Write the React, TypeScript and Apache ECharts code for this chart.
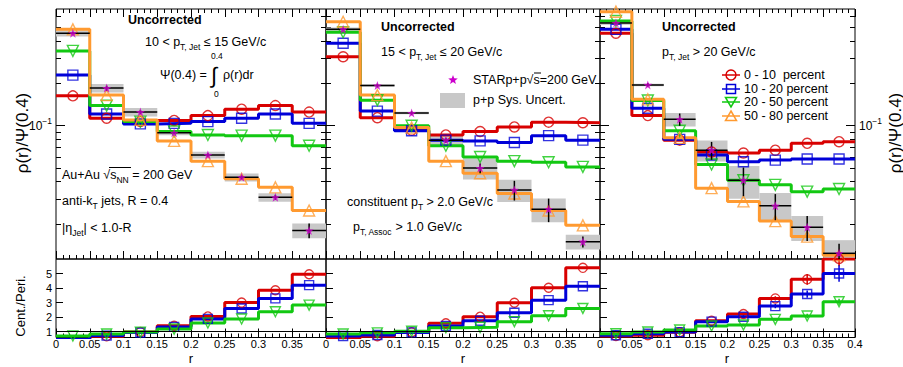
import React, { useEffect, useRef } from 'react';
import * as echarts from 'echarts';

// ---------------- data ----------------
const binEdges = [0, 0.05, 0.1, 0.15, 0.2, 0.25, 0.3, 0.35, 0.4];
const binCenters = [0.025, 0.075, 0.125, 0.175, 0.225, 0.275, 0.325, 0.375];

const centralityLabels = ['0 - 10  percent', '10 - 20 percent', '20 - 50 percent', '50 - 80 percent'];
const logMajorTicks = [0.1];
const logMinorTicks = [0.02, 0.03, 0.04, 0.05, 0.06, 0.07, 0.08, 0.09, 0.2, 0.3, 0.4, 0.5, 0.6];
const ratioTicks = [1, 2, 3, 4, 5];

// Panel 1: 10 < pT,Jet <= 15 GeV/c
const p1Cent0010 = [0.163, 0.113, 0.107, 0.109, 0.118, 0.131, 0.139, 0.125];
const p1Cent1020 = [0.229, 0.121, 0.103, 0.104, 0.107, 0.113, 0.121, 0.104];
const p1Cent2050 = [0.34, 0.139, 0.107, 0.091, 0.086, 0.085, 0.085, 0.072];
const p1Cent5080 = [0.484, 0.165, 0.11, 0.078, 0.056, 0.042, 0.0365, 0.025];
const p1PP = [0.454, 0.185, 0.125, 0.089, 0.062, 0.043, 0.031, 0.018];
const p1PPStat = [0.02, 0.04, 0.03, 0.02, 0.03, 0.03, 0.04, 0.12];
const p1PPSys = [0.05, 0.07, 0.07, 0.04, 0.055, 0.065, 0.07, 0.12];
const p1Ratio0010 = [0.34, 0.68, 0.97, 1.4, 2.05, 3.0, 3.85, 4.95];
const p1Ratio1020 = [0.47, 0.73, 0.94, 1.33, 1.88, 2.6, 3.29, 4.2];
const p1Ratio2050 = [0.7, 0.84, 0.97, 1.18, 1.6, 1.87, 2.37, 2.83];

// Panel 2: 15 < pT,Jet <= 20 GeV/c
const p2Cent0010 = [0.309, 0.114, 0.093, 0.086, 0.091, 0.098, 0.106, 0.105];
const p2Cent1020 = [0.385, 0.127, 0.092, 0.079, 0.078, 0.076, 0.085, 0.079];
const p2Cent2050 = [0.461, 0.152, 0.1, 0.072, 0.06, 0.056, 0.055, 0.051];
const p2Cent5080 = [0.548, 0.165, 0.097, 0.056, 0.046, 0.033, 0.025, 0.0196];
const p2PP = [0.484, 0.193, 0.123, 0.079, 0.05, 0.035, 0.0255, 0.015];
const p2PPStat = [0.02, 0.03, 0.03, 0.04, 0.08, 0.16, 0.19, 0.09];
const p2PPSys = [0.03, 0.02, 0.02, 0.08, 0.17, 0.18, 0.19, 0.12];
const p2Ratio0010 = [0.56, 0.69, 0.96, 1.58, 2.03, 2.99, 4.02, 5.39];
const p2Ratio1020 = [0.7, 0.77, 0.95, 1.39, 1.75, 2.3, 3.17, 4.13];
const p2Ratio2050 = [0.84, 0.92, 1.03, 1.27, 1.3, 1.69, 2.1, 2.6];

// Panel 3: pT,Jet > 20 GeV/c
const p3Cent0010 = [0.454, 0.118, 0.079, 0.065, 0.064, 0.067, 0.075, 0.077];
const p3Cent1020 = [0.484, 0.133, 0.08, 0.062, 0.0555, 0.057, 0.058, 0.058];
const p3Cent2050 = [0.555, 0.151, 0.092, 0.053, 0.041, 0.038, 0.034, 0.0355];
const p3Cent5080 = [0.646, 0.154, 0.082, 0.036, 0.029, 0.021, 0.0163, 0.012];
const p3PP = [0.537, 0.195, 0.111, 0.067, 0.041, 0.027, 0.019, 0.0124];
const p3PPStat = [0.02, 0.03, 0.1, 0.145, 0.23, 0.21, 0.2, 0.17];
const p3PPSys = [0.03, 0.02, 0.11, 0.17, 0.26, 0.23, 0.2, 0.24];
const p3Ratio0010 = [0.7, 0.76, 0.96, 1.75, 2.21, 3.29, 4.6, 6.0];
const p3Ratio1020 = [0.75, 0.86, 0.97, 1.69, 2.03, 2.76, 3.59, 5.0];
const p3Ratio2050 = [0.86, 0.98, 1.12, 1.39, 1.46, 1.85, 2.08, 3.06];
const p3RatioErr0010 = [0, 0, 0, 0.06, 0.1, 0.15, 0.37, 0.5];
const p3RatioErr1020 = [0, 0, 0, 0.06, 0.1, 0.15, 0.25, 0.57];
const p3RatioErr2050 = [0, 0, 0, 0.05, 0.08, 0.1, 0.15, 0.2];

const panels = [
  { cent: [p1Cent0010, p1Cent1020, p1Cent2050, p1Cent5080], pp: p1PP, ppStat: p1PPStat, ppSys: p1PPSys, ratio: [p1Ratio0010, p1Ratio1020, p1Ratio2050], ratioErr: null as null | number[][] },
  { cent: [p2Cent0010, p2Cent1020, p2Cent2050, p2Cent5080], pp: p2PP, ppStat: p2PPStat, ppSys: p2PPSys, ratio: [p2Ratio0010, p2Ratio1020, p2Ratio2050], ratioErr: null as null | number[][] },
  { cent: [p3Cent0010, p3Cent1020, p3Cent2050, p3Cent5080], pp: p3PP, ppStat: p3PPStat, ppSys: p3PPSys, ratio: [p3Ratio0010, p3Ratio1020, p3Ratio2050], ratioErr: [p3RatioErr0010, p3RatioErr1020, p3RatioErr2050] },
];

// ---------------- styles ----------------
const FONT = '"Liberation Sans", Arial, Helvetica, sans-serif';
const COLORS = ['#d80000', '#0000d8', '#12c812', '#ff9a30'];
const SYMBOLS = ['circle', 'rect', 'triangle', 'triangle'];
const ROTATES = [0, 0, 180, 0];
const MAGENTA = '#cc00cc';
const GRAY = '#c8c8c8';
const STAR = 'path://M0,-10 L2.35,-3.24 L9.51,-3.09 L3.8,1.24 L5.88,8.09 L0,4 L-5.88,8.09 L-3.8,1.24 L-9.51,-3.09 L-2.35,-3.24 Z';

const PANEL_X = [
  { left: 56, width: 270 },
  { left: 326, width: 274 },
  { left: 600, width: 255 },
];
const TOP_Y = { top: 9, height: 250 };
const RAT_Y = { top: 259, height: 78.5 };
const LOG_MIN = 0.0113;
const LOG_MAX = 0.675;

const RICH_G = {
  sub: { fontSize: 8.5, fontFamily: FONT, fill: '#000', padding: [10, 0, 0, 0] },
  sup: { fontSize: 8.5, fontFamily: FONT, fill: '#000', padding: [0, 0, 9, 0] },
};

function txt(x: number, y: number, text: string, o: any = {}) {
  return {
    type: 'text',
    x,
    y,
    rotation: o.rotation || 0,
    silent: true,
    z: 100,
    style: {
      text,
      fill: '#000',
      fontFamily: FONT,
      fontSize: o.fontSize || 12.5,
      fontWeight: o.bold ? 'bold' : 'normal',
      align: o.align || 'left',
      textAlign: o.align || 'left',
      verticalAlign: 'middle',
      textVerticalAlign: 'middle',
      rich: RICH_G,
    },
  };
}

function hline(x1: number, x2: number, y: number, color = '#000', w = 1) {
  return { type: 'line', silent: true, z: 100, shape: { x1, y1: y, x2, y2: y }, style: { stroke: color, lineWidth: w } };
}

function starPoints(cx: number, cy: number, r: number) {
  const pts: number[][] = [];
  for (let i = 0; i < 10; i++) {
    const rr = i % 2 === 0 ? r : r * 0.42;
    const a = -Math.PI / 2 + (i * Math.PI) / 5;
    pts.push([cx + rr * Math.cos(a), cy + rr * Math.sin(a)]);
  }
  return pts;
}

function legendMarker(ci: number, cx: number, cy: number) {
  const color = COLORS[ci];
  const st = { fill: 'none', stroke: color, lineWidth: 1.5 };
  const items: any[] = [hline(cx - 9, cx + 9, cy, color, 1.5)];
  if (ci === 0) items.push({ type: 'circle', silent: true, z: 101, shape: { cx, cy, r: 5 }, style: st });
  if (ci === 1) items.push({ type: 'rect', silent: true, z: 101, shape: { x: cx - 4.5, y: cy - 4.5, width: 9, height: 9 }, style: st });
  if (ci === 2) items.push({ type: 'polygon', silent: true, z: 101, shape: { points: [[cx - 5.5, cy - 4.5], [cx + 5.5, cy - 4.5], [cx, cy + 5]] }, style: st });
  if (ci === 3) items.push({ type: 'polygon', silent: true, z: 101, shape: { points: [[cx, cy - 5], [cx + 5.5, cy + 4.5], [cx - 5.5, cy + 4.5]] }, style: st });
  return items;
}

function buildOption() {
  const grid: any[] = [];
  PANEL_X.forEach((g) => grid.push({ ...g, ...TOP_Y, show: true, borderColor: '#000', borderWidth: 1, backgroundColor: 'transparent' }));
  PANEL_X.forEach((g) => grid.push({ ...g, ...RAT_Y, show: true, borderColor: '#000', borderWidth: 1, backgroundColor: 'transparent' }));

  const tickLine = { color: '#000', width: 1 };
  const xAxis: any[] = [];
  const xBase = (gridIndex: number, position: string, showLabel: boolean, hideMax: boolean, major: number, minor: number) => ({
    type: 'value',
    gridIndex,
    position,
    min: 0,
    max: 0.4,
    interval: 0.05,
    axisLine: { show: false },
    splitLine: { show: false },
    axisTick: { show: true, inside: true, length: major, lineStyle: tickLine },
    minorTick: { show: true, splitNumber: 5, length: minor, lineStyle: tickLine },
    axisLabel: {
      show: showLabel,
      margin: 1,
      fontSize: 11,
      fontFamily: FONT,
      color: '#000',
      showMinLabel: true,
      showMaxLabel: true,
      formatter: (v: number) => (hideMax && v > 0.39 ? '' : String(+v.toFixed(2))),
    },
  });
  for (let p = 0; p < 3; p++) xAxis.push(xBase(p, 'bottom', false, false, 8, 4));
  for (let p = 0; p < 3; p++) xAxis.push(xBase(p, 'top', false, false, 8, 4));
  for (let p = 0; p < 3; p++) xAxis.push(xBase(3 + p, 'bottom', true, p < 2, 9, 4));

  const yAxis: any[] = [];
  const supLabel = {
    customValues: logMajorTicks,
    margin: 4,
    fontSize: 12,
    fontFamily: FONT,
    color: '#000',
    formatter: () => '10{sup|\u22121}',
    rich: { sup: { fontSize: 8.5, fontFamily: FONT, color: '#000', padding: [0, 0, 9, 0] } },
  };
  const yLog = (gridIndex: number, position: string, values: number[], len: number, label: boolean) => ({
    type: 'log',
    logBase: 10,
    gridIndex,
    position,
    min: LOG_MIN,
    max: LOG_MAX,
    axisLine: { show: false },
    splitLine: { show: false },
    minorTick: { show: false },
    axisTick: { show: true, inside: true, length: len, customValues: values, lineStyle: tickLine },
    axisLabel: label ? { show: true, ...supLabel } : { show: false, customValues: values },
  });
  for (let p = 0; p < 3; p++) {
    yAxis.push(yLog(p, 'left', logMajorTicks, 9, p === 0));
    yAxis.push(yLog(p, 'left', logMinorTicks, 5, false));
    yAxis.push(yLog(p, 'right', logMajorTicks, 9, p === 2));
    yAxis.push(yLog(p, 'right', logMinorTicks, 5, false));
  }
  for (let p = 0; p < 3; p++) {
    yAxis.push({
      type: 'value',
      gridIndex: 3 + p,
      position: 'left',
      min: 0.6,
      max: 6,
      axisLine: { show: false },
      splitLine: { show: false },
      axisTick: { show: true, inside: true, length: 7, customValues: ratioTicks, lineStyle: tickLine },
      axisLabel: { show: p === 0, customValues: ratioTicks, margin: 4, fontSize: 11, fontFamily: FONT, color: '#000' },
    });
  }

  const series: any[] = [];
  panels.forEach((P, p) => {
    const xi = p;
    const yi = p * 4;
    const xr = 6 + p;
    const yr = 12 + p;

    // p+p systematic boxes
    series.push({
      type: 'custom',
      name: 'p+p Sys. Uncert.',
      xAxisIndex: xi,
      yAxisIndex: yi,
      z: 1,
      clip: true,
      silent: true,
      data: P.pp.map((v, i) => [binEdges[i], binEdges[i + 1], v, P.ppSys[i]]),
      encode: { x: [0, 1], y: 2 },
      renderItem: (params: any, api: any) => {
        const a = api.coord([api.value(0), api.value(2) * (1 + api.value(3))]);
        const b = api.coord([api.value(1), api.value(2) * (1 - api.value(3))]);
        return { type: 'rect', shape: { x: a[0], y: a[1], width: b[0] - a[0], height: b[1] - a[1] }, style: { fill: GRAY } };
      },
    });

    // centrality step histograms
    P.cent.forEach((vals, ci) => {
      series.push({
        type: 'line',
        name: centralityLabels[ci],
        xAxisIndex: xi,
        yAxisIndex: yi,
        step: 'end',
        symbol: 'none',
        showSymbol: false,
        clip: true,
        silent: true,
        z: 2,
        data: binEdges.map((e, i) => [e, vals[Math.min(i, vals.length - 1)]]),
        lineStyle: { color: COLORS[ci], width: 3 },
        itemStyle: { color: COLORS[ci] },
      });
    });
    P.cent.forEach((vals, ci) => {
      series.push({
        type: 'scatter',
        name: centralityLabels[ci],
        xAxisIndex: xi,
        yAxisIndex: yi,
        z: 3,
        silent: true,
        clip: true,
        symbol: SYMBOLS[ci],
        symbolRotate: ROTATES[ci],
        symbolSize: ci >= 2 ? 11 : 10,
        data: binCenters.map((c, i) => [c, vals[i]]),
        itemStyle: { color: 'rgba(0,0,0,0)', borderColor: COLORS[ci], borderWidth: 1.4 },
      });
    });

    // p+p error bars
    series.push({
      type: 'custom',
      name: 'STAR p+p',
      xAxisIndex: xi,
      yAxisIndex: yi,
      z: 4,
      clip: true,
      silent: true,
      data: P.pp.map((v, i) => [binEdges[i], binEdges[i + 1], v, P.ppStat[i], binCenters[i]]),
      encode: { x: [0, 1], y: 2 },
      renderItem: (params: any, api: any) => {
        const v = api.value(2);
        const s = api.value(3);
        const l = api.coord([api.value(0), v]);
        const r = api.coord([api.value(1), v]);
        const u = api.coord([api.value(4), v * (1 + s)]);
        const d = api.coord([api.value(4), v * (1 - s)]);
        return {
          type: 'group',
          children: [
            { type: 'line', shape: { x1: l[0], y1: l[1], x2: r[0], y2: r[1] }, style: { stroke: '#000', lineWidth: 1.5 } },
            { type: 'line', shape: { x1: u[0], y1: u[1], x2: d[0], y2: d[1] }, style: { stroke: '#000', lineWidth: 1.5 } },
          ],
        };
      },
    });
    series.push({
      type: 'scatter',
      name: 'STAR p+p',
      xAxisIndex: xi,
      yAxisIndex: yi,
      z: 5,
      silent: true,
      clip: true,
      symbol: STAR,
      symbolSize: 9,
      data: binCenters.map((c, i) => [c, P.pp[i]]),
      itemStyle: { color: MAGENTA },
    });

    // ratio panel
    P.ratio.forEach((vals, ci) => {
      const s: any = {
        type: 'line',
        name: centralityLabels[ci],
        xAxisIndex: xr,
        yAxisIndex: yr,
        step: 'end',
        symbol: 'none',
        showSymbol: false,
        clip: true,
        silent: true,
        z: 2,
        data: binEdges.map((e, i) => [e, vals[Math.min(i, vals.length - 1)]]),
        lineStyle: { color: COLORS[ci], width: 3 },
        itemStyle: { color: COLORS[ci] },
      };
      if (ci === 0) {
        s.markLine = {
          silent: true,
          symbol: ['none', 'none'],
          label: { show: false },
          lineStyle: { color: '#000', width: 1, type: 'solid' },
          data: [{ yAxis: 1 }],
        };
      }
      series.push(s);
    });
    P.ratio.forEach((vals, ci) => {
      series.push({
        type: 'scatter',
        name: centralityLabels[ci],
        xAxisIndex: xr,
        yAxisIndex: yr,
        z: 3,
        silent: true,
        clip: true,
        symbol: SYMBOLS[ci],
        symbolRotate: ROTATES[ci],
        symbolSize: ci >= 2 ? 10 : 9,
        data: binCenters.map((c, i) => [c, vals[i]]),
        itemStyle: { color: 'rgba(0,0,0,0)', borderColor: COLORS[ci], borderWidth: 1.4 },
      });
    });
    if (P.ratioErr) {
      P.ratioErr.forEach((errs, ci) => {
        series.push({
          type: 'custom',
          xAxisIndex: xr,
          yAxisIndex: yr,
          z: 3,
          clip: true,
          silent: true,
          data: binCenters.map((c, i) => [c, P.ratio[ci][i], errs[i]]),
          encode: { x: 0, y: 1 },
          renderItem: (params: any, api: any) => {
            const u = api.coord([api.value(0), api.value(1) + api.value(2)]);
            const d = api.coord([api.value(0), api.value(1) - api.value(2)]);
            return { type: 'line', shape: { x1: u[0], y1: u[1], x2: d[0], y2: d[1] }, style: { stroke: COLORS[ci], lineWidth: 1.5 } };
          },
        });
      });
    }
  });

  // ---------------- annotations ----------------
  const graphic: any[] = [];
  // panel 1
  graphic.push(txt(128, 20, 'Uncorrected', { bold: true }));
  graphic.push(txt(145, 42, '10 < p{sub|T, Jet} \u2264 15 GeV/c'));
  graphic.push(txt(160, 75, '\u03a8(0.4) ='));
  graphic.push(txt(211, 75, '\u222b', { fontSize: 22 }));
  graphic.push(txt(211, 56, '0.4', { fontSize: 8.5 }));
  graphic.push(txt(214, 94, '0', { fontSize: 8.5 }));
  graphic.push(txt(223, 75, '\u03c1(r)dr'));
  graphic.push(txt(62, 175, 'Au+Au \u221as{sub|NN} = 200 GeV'));
  graphic.push(hline(109, 131, 167.5));
  graphic.push(txt(62, 201, 'anti-k{sub|T} jets, R = 0.4'));
  graphic.push(txt(62, 228, '|\u03b7{sub|Jet}| < 1.0-R'));
  // panel 2
  graphic.push(txt(381, 27, 'Uncorrected', { bold: true }));
  graphic.push(txt(381, 52, '15 < p{sub|T, Jet} \u2264 20 GeV/c'));
  graphic.push({ type: 'polygon', silent: true, z: 100, shape: { points: starPoints(453, 80, 5) }, style: { fill: MAGENTA } });
  graphic.push(txt(473, 80, 'STARp+p\u221as=200 GeV'));
  graphic.push(hline(534, 541, 73));
  graphic.push({ type: 'rect', silent: true, z: 100, shape: { x: 440, y: 93, width: 25, height: 15 }, style: { fill: GRAY } });
  graphic.push(txt(473, 100, 'p+p Sys. Uncert.'));
  graphic.push(txt(347, 202, 'constituent p{sub|T} > 2.0 GeV/c'));
  graphic.push(txt(353, 227, 'p{sub|T, Assoc} > 1.0 GeV/c'));
  // panel 3
  graphic.push(txt(662, 27, 'Uncorrected', { bold: true }));
  graphic.push(txt(662, 52, 'p{sub|T, Jet} > 20 GeV/c'));
  const legY = [75, 89, 102, 116];
  centralityLabels.forEach((lab, ci) => {
    legendMarker(ci, 731, legY[ci]).forEach((g) => graphic.push(g));
    graphic.push(txt(744, legY[ci], lab));
  });
  // axis titles
  graphic.push(txt(22, 133, '\u03c1(r)/\u03a8(0.4)', { fontSize: 17, align: 'center', rotation: Math.PI / 2 }));
  graphic.push(txt(895, 133, '\u03c1(r)/\u03a8(0.4)', { fontSize: 17, align: 'center', rotation: Math.PI / 2 }));
  graphic.push(txt(20, 306, 'Cent./Peri.', { fontSize: 13, align: 'center', rotation: Math.PI / 2 }));
  graphic.push(txt(191, 358.5, 'r', { fontSize: 13, align: 'center' }));
  graphic.push(txt(463, 358.5, 'r', { fontSize: 13, align: 'center' }));
  graphic.push(txt(727, 358.5, 'r', { fontSize: 13, align: 'center' }));

  return {
    animation: false,
    backgroundColor: '#fff',
    textStyle: { fontFamily: FONT },
    grid,
    xAxis,
    yAxis,
    series,
    graphic,
  };
}

export default function App() {
  const ref = useRef<HTMLDivElement>(null);
  useEffect(() => {
    const chart = echarts.init(ref.current as HTMLDivElement, null, { renderer: 'svg' });
    chart.setOption(buildOption() as any);
    return () => chart.dispose();
  }, []);
  return (
    <div
      ref={ref}
      style={{ position: 'absolute', left: 0, top: 0, width: 903, height: 367, background: '#fff' }}
    />
  );
}
